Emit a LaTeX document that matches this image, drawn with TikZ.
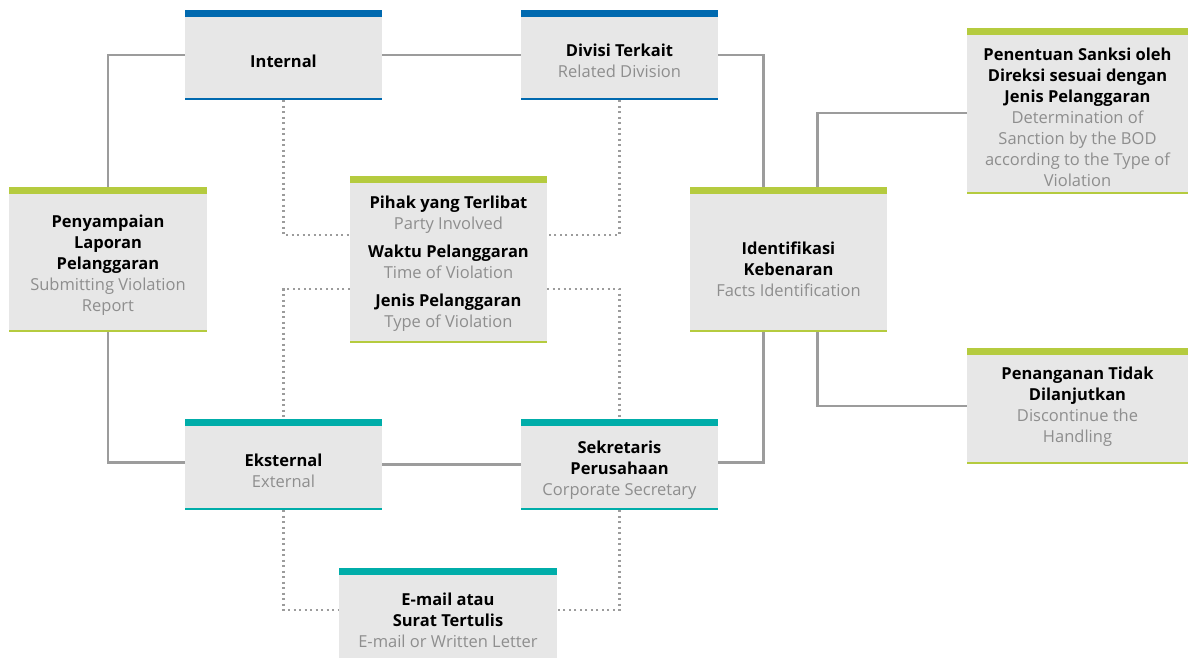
\documentclass[tikz,border=0pt]{standalone}
\usepackage{fontspec}
\setmainfont{Open Sans}
\usepackage{tikz}
\usetikzlibrary{calc}

\definecolor{barblue}{HTML}{0069AF}
\definecolor{bargreen}{HTML}{B5CB3F}
\definecolor{barteal}{HTML}{00ADA9}
\definecolor{boxfill}{HTML}{E7E7E7}
\definecolor{txtgray}{HTML}{8E8E8E}
\definecolor{linkgray}{HTML}{9C9C9C}

\newcommand{\eng}[1]{\textcolor{txtgray}{\mdseries #1}}

\begin{document}
\begin{tikzpicture}[x=1pt, y=-1pt,
	stepbox/.style={fill=boxfill, inner sep=0pt,
	  path picture={
	    \fill[#1] (path picture bounding box.north west) rectangle ([yshift=-7pt]path picture bounding box.north east);
	    \fill[#1] (path picture bounding box.south west) rectangle ([yshift=1.8pt]path picture bounding box.south east);
	  }},
	steptext/.style={align=center, yshift=-6pt, inner sep=0pt, font=\fontsize{16.5}{21}\selectfont\bfseries},
	link/.style={draw=linkgray, line width=2.4pt},
	dotlink/.style={draw=linkgray, line width=2.2pt, dash pattern=on 2.2pt off 3.3pt}]
	\useasboundingbox (0,0) rectangle (1189,657);
	\node[stepbox=barblue, minimum width=197pt, minimum height=90pt, label={[steptext]center:Internal}] (int) at (283.5,55) {};
	\node[stepbox=barblue, minimum width=197pt, minimum height=90pt, label={[steptext]center:{Divisi Terkait\\ \eng{Related Division}}}] (div) at (619.5,55) {};
	\node[stepbox=bargreen, minimum width=221pt, minimum height=166pt, label={[steptext]center:{Penentuan Sanksi oleh\\ Direksi sesuai dengan\\ Jenis Pelanggaran\\ \eng{Determination of}\\ \eng{Sanction by the BOD}\\ \eng{according to the Type of}\\ \eng{Violation}}}] (sanksi) at (1077.5,111) {};
	\node[stepbox=bargreen, minimum width=198pt, minimum height=145pt, label={[steptext]center:{Penyampaian\\ Laporan\\ Pelanggaran\\ \eng{Submitting Violation}\\ \eng{Report}}}] (lapor) at (108,259.5) {};
	\node[stepbox=bargreen, minimum width=197pt, minimum height=167pt, label={[steptext, yshift=2pt]center:{Pihak yang Terlibat\\ \eng{Party Involved}\\[7pt] Waktu Pelanggaran\\ \eng{Time of Violation}\\[7pt] Jenis Pelanggaran\\ \eng{Type of Violation}}}] (pihak) at (448.5,259.5) {};
	\node[stepbox=bargreen, minimum width=197pt, minimum height=145pt, label={[steptext, yshift=-4pt]center:{Identifikasi\\ Kebenaran\\ \eng{Facts Identification}}}] (iden) at (788.5,259.5) {};
	\node[stepbox=bargreen, minimum width=221pt, minimum height=116pt, label={[steptext, yshift=5pt]center:{Penanganan Tidak\\ Dilanjutkan\\ \eng{Discontinue the}\\ \eng{Handling}}}] (henti) at (1077.5,406) {};
	\node[stepbox=barteal, minimum width=197pt, minimum height=91pt, label={[steptext]center:{Eksternal\\ \eng{External}}}] (eks) at (283.5,464.5) {};
	\node[stepbox=barteal, minimum width=197pt, minimum height=91pt, label={[steptext]center:{Sekretaris\\ Perusahaan\\ \eng{Corporate Secretary}}}] (sek) at (619.5,464.5) {};
	\node[stepbox=barteal, minimum width=218pt, minimum height=92pt, label={[steptext]center:{E-mail atau\\ Surat Tertulis\\ \eng{E-mail or Written Letter}}}] (mail) at (448,614) {};
	\draw[link] (int.west) -| (lapor.north);
	\draw[link] (int.east) -- (div.west);
	\draw[link] (div.east) -| ([xshift=-25pt]iden.north);
	\draw[link] ([xshift=29pt]iden.north) |- ([yshift=-2pt]sanksi.west);
	\draw[link] ([xshift=29pt]iden.south) |- (henti.west);
	\draw[link] ([xshift=-25pt]iden.south) |- ([yshift=2pt]sek.east);
	\draw[link] (sek.west) -- (eks.east);
	\draw[link] ([yshift=2pt]eks.west) -| (lapor.south);
	\draw[dotlink] (int.south) |- ([yshift=24.5pt]pihak.west);
	\draw[dotlink] (div.south) |- ([yshift=24.5pt]pihak.east);
	\draw[dotlink] ([yshift=-29.5pt]pihak.west) -| (eks.north);
	\draw[dotlink] ([yshift=-29.5pt]pihak.east) -| (sek.north);
	\draw[dotlink] (eks.south) |- ([yshift=4pt]mail.west);
	\draw[dotlink] (sek.south) |- ([yshift=4pt]mail.east);
\end{tikzpicture}
\end{document}
